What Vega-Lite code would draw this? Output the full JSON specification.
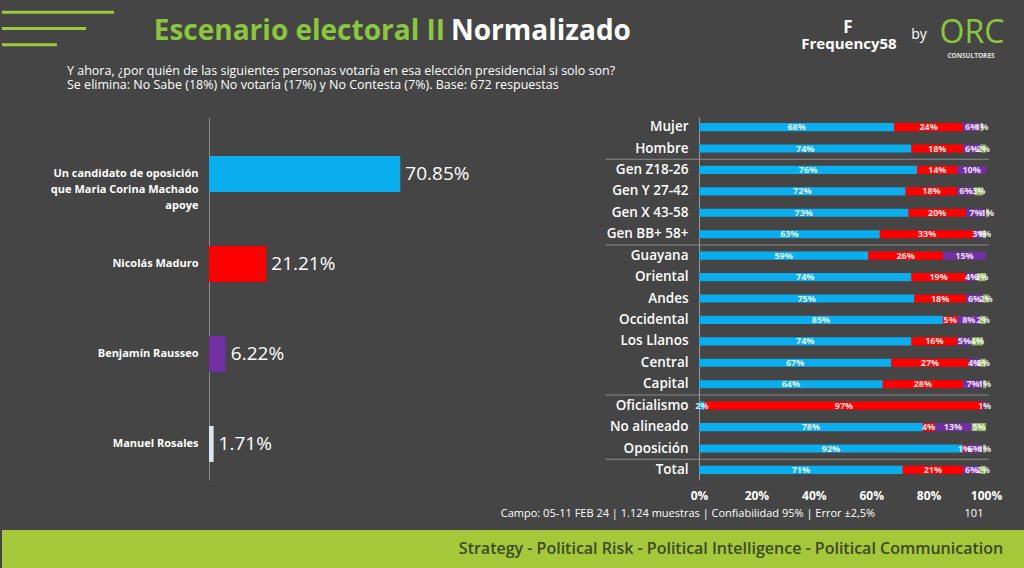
{
  "$schema": "https://vega.github.io/schema/vega-lite/v6.json",
  "background": "#454545",
  "padding": 0,
  "spacing": 0,
  "config": {
    "font": "Open Sans",
    "view": {"stroke": null},
    "axis": {"labelFont": "Open Sans"}
  },
  "datasets": {
    "segments": [
      {"seg": "Mujer", "Candidato MCM": 0.68, "Maduro": 0.24, "Rausseo": 0.06, "Rosales": 0.01},
      {"seg": "Hombre", "Candidato MCM": 0.74, "Maduro": 0.18, "Rausseo": 0.06, "Rosales": 0.02},
      {"seg": "Gen Z18-26", "Candidato MCM": 0.76, "Maduro": 0.14, "Rausseo": 0.10, "Rosales": 0},
      {"seg": "Gen Y 27-42", "Candidato MCM": 0.72, "Maduro": 0.18, "Rausseo": 0.06, "Rosales": 0.03},
      {"seg": "Gen X 43-58", "Candidato MCM": 0.73, "Maduro": 0.20, "Rausseo": 0.07, "Rosales": 0.01},
      {"seg": "Gen BB+ 58+", "Candidato MCM": 0.63, "Maduro": 0.33, "Rausseo": 0.03, "Rosales": 0.01},
      {"seg": "Guayana", "Candidato MCM": 0.59, "Maduro": 0.26, "Rausseo": 0.15, "Rosales": 0},
      {"seg": "Oriental", "Candidato MCM": 0.74, "Maduro": 0.19, "Rausseo": 0.04, "Rosales": 0.03},
      {"seg": "Andes", "Candidato MCM": 0.75, "Maduro": 0.18, "Rausseo": 0.06, "Rosales": 0.02},
      {"seg": "Occidental", "Candidato MCM": 0.85, "Maduro": 0.05, "Rausseo": 0.08, "Rosales": 0.02},
      {"seg": "Los Llanos", "Candidato MCM": 0.74, "Maduro": 0.16, "Rausseo": 0.05, "Rosales": 0.04},
      {"seg": "Central", "Candidato MCM": 0.67, "Maduro": 0.27, "Rausseo": 0.04, "Rosales": 0.02},
      {"seg": "Capital", "Candidato MCM": 0.64, "Maduro": 0.28, "Rausseo": 0.07, "Rosales": 0.01},
      {"seg": "Oficialismo", "Candidato MCM": 0.02, "Maduro": 0.97, "Rausseo": 0.01, "Rosales": 0},
      {"seg": "No alineado", "Candidato MCM": 0.78, "Maduro": 0.04, "Rausseo": 0.13, "Rosales": 0.05},
      {"seg": "Oposición", "Candidato MCM": 0.92, "Maduro": 0.01, "Rausseo": 0.06, "Rosales": 0.01},
      {"seg": "Total", "Candidato MCM": 0.71, "Maduro": 0.21, "Rausseo": 0.06, "Rosales": 0.02}
    ],
    "separators": [
      {"seg": "Gen Z18-26"},
      {"seg": "Guayana"},
      {"seg": "Oficialismo"},
      {"seg": "Total"}
    ]
  },
  "vconcat": [
    {
      "hconcat": [
        {
          "width": 112,
          "height": 64,
          "data": {"values": [{"rank": 1, "share": 1}, {"rank": 2, "share": 0.75}, {"rank": 3, "share": 0.49}]},
          "mark": {"type": "rule", "color": "#9dcb3c", "strokeWidth": 3},
          "encoding": {
            "x": {"field": "share", "type": "quantitative", "scale": {"domain": [0, 1]}, "axis": null},
            "x2": {"datum": 0},
            "y": {"field": "rank", "type": "ordinal", "axis": null, "scale": {"padding": 0.94, "align": 0.387}}
          }
        },
        {
          "width": 664,
          "height": 64,
          "layer": [
            {
              "data": {"values": [{"t": "Escenario electoral II"}]},
              "mark": {"type": "text", "align": "right", "baseline": "middle", "dx": -3, "dy": 0, "fontSize": 28, "fontWeight": "bold", "color": "#8cc63f"},
              "encoding": {"text": {"field": "t"}}
            },
            {
              "data": {"values": [{"t": "Normalizado"}]},
              "mark": {"type": "text", "align": "left", "baseline": "middle", "dx": 3, "dy": 0, "fontSize": 28, "fontWeight": "bold", "color": "#ffffff"},
              "encoding": {"text": {"field": "t"}}
            }
          ]
        },
        {
          "width": 248,
          "height": 64,
          "layer": [
            {
              "data": {"values": [{"t": "F"}]},
              "mark": {"type": "text", "align": "center", "baseline": "middle", "dx": -56, "dy": -4, "fontSize": 17, "fontWeight": "bold", "color": "#ffffff"},
              "encoding": {"text": {"field": "t"}}
            },
            {
              "data": {"values": [{"t": "Frequency58"}]},
              "mark": {"type": "text", "align": "center", "baseline": "middle", "dx": -55, "dy": 12, "fontSize": 15, "fontWeight": "bold", "color": "#ffffff"},
              "encoding": {"text": {"field": "t"}}
            },
            {
              "data": {"values": [{"t": "by"}]},
              "mark": {"type": "text", "align": "center", "baseline": "middle", "dx": 15, "dy": 3, "fontSize": 14, "color": "#ffffff"},
              "encoding": {"text": {"field": "t"}}
            },
            {
              "data": {"values": [{"t": "ORC"}]},
              "mark": {"type": "text", "align": "center", "baseline": "middle", "dx": 68, "dy": 1, "fontSize": 32, "color": "#8cc63f"},
              "encoding": {"text": {"field": "t"}}
            },
            {
              "data": {"values": [{"t": "CONSULTORES"}]},
              "mark": {"type": "text", "align": "center", "baseline": "middle", "dx": 67, "dy": 24, "fontSize": 6.5, "fontWeight": "bold", "color": "#e0e0e0"},
              "encoding": {"text": {"field": "t"}}
            }
          ]
        }
      ],
      "spacing": 0
    },
    {
      "title": {
        "text": [
          "Y ahora, ¿por quién de las siguientes personas votaría en esa elección presidencial si solo son?",
          "Se elimina: No Sabe (18%) No votaría (17%) y No Contesta (7%). Base: 672 respuestas"
        ],
        "anchor": "start",
        "align": "left",
        "dx": 65,
        "dy": 1,
        "fontSize": 12.5,
        "fontWeight": "normal",
        "color": "#ffffff",
        "lineHeight": 14,
        "offset": 27
      },
      "spacing": 0,
      "hconcat": [
        {
          "width": 1,
          "height": 1,
          "data": {"values": []},
          "mark": {"type": "point", "opacity": 0}
        },
        {
          "spacing": 126,
          "resolve": {"scale": {"color": "independent"}},
          "hconcat": [
            {
              "width": 270,
              "height": 363,
              "data": {
                "values": [
                  {"cand": "Un candidato de oposición que Maria Corina Machado apoye", "v": 0.7085},
                  {"cand": "Nicolás Maduro", "v": 0.2121},
                  {"cand": "Benjamín Rausseo", "v": 0.0622},
                  {"cand": "Manuel Rosales", "v": 0.0171}
                ]
              },
              "encoding": {
                "y": {
                  "field": "cand",
                  "type": "nominal",
                  "sort": null,
                  "scale": {"paddingInner": 0.6, "paddingOuter": 0.317, "align": 0.684},
                  "axis": {
                    "title": null,
                    "ticks": false,
                    "labelPadding": 11,
                    "labelFontSize": 11,
                    "labelFontWeight": "bold",
                    "labelColor": "#ffffff",
                    "labelLimit": 300,
                    "labelLineHeight": 16,
                    "domainColor": "#8a8a8a",
                    "minExtent": 206,
                    "labelExpr": "datum.label == 'Un candidato de oposición que Maria Corina Machado apoye' ? ['Un candidato de oposición', 'que Maria Corina Machado', 'apoye'] : datum.label"
                  }
                },
                "x": {"field": "v", "type": "quantitative", "scale": {"domain": [0, 1]}, "axis": null}
              },
              "layer": [
                {
                  "mark": {"type": "bar"},
                  "encoding": {
                    "color": {
                      "field": "cand",
                      "type": "nominal",
                      "legend": null,
                      "scale": {
                        "domain": ["Un candidato de oposición que Maria Corina Machado apoye", "Nicolás Maduro", "Benjamín Rausseo", "Manuel Rosales"],
                        "range": ["#0aaeef", "#ff0000", "#7030a0", "#dde4f2"]
                      }
                    }
                  }
                },
                {
                  "mark": {"type": "text", "align": "left", "baseline": "middle", "dx": 5, "fontSize": 19, "color": "#ffffff"},
                  "encoding": {"text": {"field": "v", "format": ".2%"}}
                }
              ]
            },
            {
              "width": 287,
              "height": 363,
              "encoding": {
                "y": {
                  "field": "seg",
                  "type": "nominal",
                  "scale": {
                    "domain": ["Mujer", "Hombre", "Gen Z18-26", "Gen Y 27-42", "Gen X 43-58", "Gen BB+ 58+", "Guayana", "Oriental", "Andes", "Occidental", "Los Llanos", "Central", "Capital", "Oficialismo", "No alineado", "Oposición", "Total"],
                    "paddingInner": 0.62,
                    "paddingOuter": 0.28
                  },
                  "axis": {
                    "title": null,
                    "ticks": false,
                    "labelPadding": 11,
                    "labelFontSize": 13.5,
                    "labelFontWeight": 600,
                    "labelColor": "#ffffff",
                    "domainColor": "#9a9a9a"
                  }
                }
              },
              "layer": [
                {
                  "data": {"name": "segments"},
                  "transform": [{"fold": ["Candidato MCM", "Maduro", "Rausseo", "Rosales"], "as": ["cand", "v"]}],
                  "mark": {"type": "bar"},
                  "encoding": {
                    "x": {
                      "field": "v",
                      "type": "quantitative",
                      "stack": "zero",
                      "scale": {"domain": [0, 1]},
                      "axis": {
                        "title": null,
                        "format": ".0%",
                        "values": [0, 0.2, 0.4, 0.6, 0.8, 1],
                        "ticks": false,
                        "domain": false,
                        "grid": false,
                        "labelFlush": false,
                        "labelColor": "#ffffff",
                        "labelFontSize": 12,
                        "labelFontWeight": "bold",
                        "labelPadding": 10
                      }
                    },
                    "order": {"field": "cand", "sort": "ascending"},
                    "color": {
                      "field": "cand",
                      "type": "nominal",
                      "legend": null,
                      "scale": {
                        "domain": ["Candidato MCM", "Maduro", "Rausseo", "Rosales"],
                        "range": ["#0aaeef", "#ff0000", "#7030a0", "#8fb55a"]
                      }
                    }
                  }
                },
                {
                  "data": {"name": "segments"},
                  "transform": [
                    {"fold": ["Candidato MCM", "Maduro", "Rausseo", "Rosales"], "as": ["cand", "v"]}
                  ],
                  "mark": {"type": "text", "align": "center", "baseline": "middle", "fontSize": 9, "fontWeight": "bold", "color": "#ffffff", "opacity": 0.85},
                  "encoding": {
                    "x": {"field": "v", "type": "quantitative", "stack": "zero", "bandPosition": 0.5},
                    "detail": {"field": "cand"},
                    "order": {"field": "cand", "sort": "ascending"},
                    "text": {"condition": {"test": "datum.v > 0", "field": "v", "format": ".0%"}, "value": ""}
                  }
                },
                {
                  "data": {"name": "separators"},
                  "mark": {"type": "rule", "color": "#8c8c8c", "strokeWidth": 1, "yOffset": -6.6},
                  "encoding": {
                    "y": {"field": "seg", "type": "nominal", "bandPosition": 0},
                    "x": {"datum": -0.325},
                    "x2": {"datum": 1.01}
                  }
                }
              ]
            }
          ]
        }
      ]
    },
    {
      "width": 1024,
      "height": 29,
      "layer": [
        {
          "data": {"values": [{"t": "Campo: 05-11 FEB 24 | 1.124 muestras | Confiabilidad 95% | Error ±2,5%"}]},
          "mark": {"type": "text", "align": "center", "baseline": "middle", "dx": 174, "dy": -1.5, "fontSize": 11, "color": "#ffffff"},
          "encoding": {"text": {"field": "t"}}
        },
        {
          "data": {"values": [{"t": "101"}]},
          "mark": {"type": "text", "align": "center", "baseline": "middle", "dx": 460, "dy": -1.5, "fontSize": 11, "color": "#ffffff"},
          "encoding": {"text": {"field": "t"}}
        }
      ]
    },
    {
      "width": 1024,
      "height": 38,
      "view": {"fill": "#a5c73a", "stroke": null},
      "data": {"values": [{"t": "Strategy - Political Risk - Political Intelligence - Political Communication"}]},
      "mark": {"type": "text", "align": "center", "baseline": "middle", "dx": 217, "fontSize": 16, "fontWeight": 600, "color": "#3b4a1d"},
      "encoding": {"text": {"field": "t"}}
    }
  ]
}
